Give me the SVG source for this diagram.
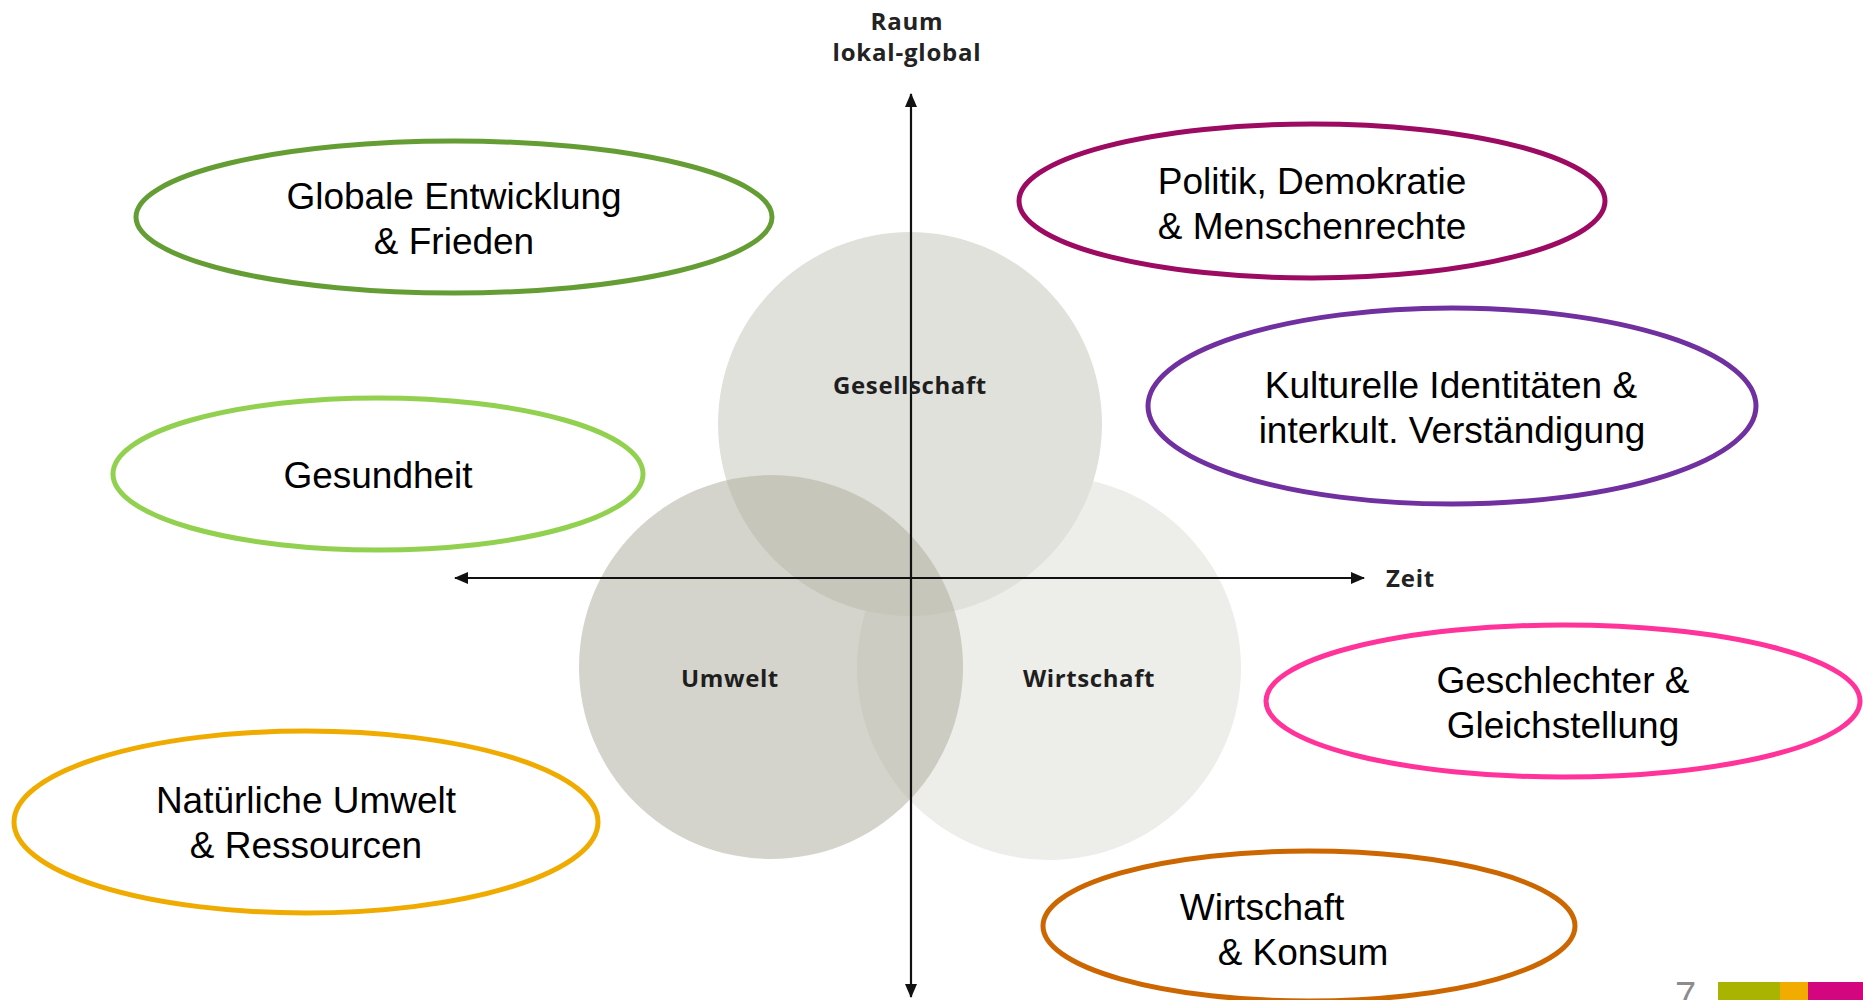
<svg xmlns="http://www.w3.org/2000/svg" width="1863" height="1000" viewBox="0 0 1863 1000">
<style>
.axis{stroke:#111;stroke-width:2.2;fill:none}
.axl{font-family:"Open Sans","Liberation Sans",sans-serif;font-weight:700;font-size:24px;letter-spacing:0.8px;fill:#222}
.cl{font-family:"Open Sans","Liberation Sans",sans-serif;font-weight:700;font-size:24px;letter-spacing:0.6px;fill:#1e1e1e;text-anchor:middle}
.el{fill:none;stroke-width:5}
.et{font-family:"Liberation Sans",Arial,sans-serif;font-size:37px;fill:#000;text-anchor:middle}
</style>
<defs>
<marker id="ah" viewBox="0 0 14 12" refX="13" refY="6" markerWidth="14" markerHeight="12" markerUnits="userSpaceOnUse" orient="auto-start-reverse">
<path d="M0,0 L14,6 L0,12 Z" fill="#111"/>
</marker>
</defs>
<rect width="1863" height="1000" fill="#fff"/>
<g id="circles">
<g id="c-wirtschaft"><circle cx="1049" cy="668" r="192" fill="#edede9"/></g>
<g id="c-gesellschaft"><circle cx="910" cy="424" r="192" fill="#e1e1dc"/></g>
<g id="c-umwelt"><circle cx="771" cy="667" r="192" fill="#adad9f" fill-opacity="0.53"/></g>
</g>
<g id="connectors">
<line class="axis" x1="911" y1="997" x2="911" y2="94" marker-start="url(#ah)" marker-end="url(#ah)"/>
<line class="axis" x1="455" y1="578" x2="1364" y2="578" marker-start="url(#ah)" marker-end="url(#ah)"/>
</g>
<g id="axis-labels">
<text class="axl" x="907" y="30" text-anchor="middle">Raum</text>
<text class="axl" x="907" y="61" text-anchor="middle">lokal-global</text>
<text class="axl" x="1386" y="587">Zeit</text>
</g>
<g id="circle-labels">
<text class="cl" x="910" y="394">Gesellschaft</text>
<text class="cl" x="730" y="687">Umwelt</text>
<text class="cl" x="1089" y="687">Wirtschaft</text>
</g>
<g id="n-globale">
<ellipse class="el" cx="454" cy="217" rx="318" ry="76" stroke="#659d35"/>
<text class="et" x="454" y="209">Globale Entwicklung</text>
<text class="et" x="454" y="254">&amp; Frieden</text>
</g>
<g id="n-gesundheit">
<ellipse class="el" cx="378" cy="474" rx="265" ry="76" stroke="#92d050"/>
<text class="et" x="378" y="488">Gesundheit</text>
</g>
<g id="n-natur">
<ellipse class="el" cx="306" cy="822" rx="292" ry="91" stroke="#f0ab00"/>
<text class="et" x="306" y="813">Natürliche Umwelt</text>
<text class="et" x="306" y="858">&amp; Ressourcen</text>
</g>
<g id="n-politik">
<ellipse class="el" cx="1312" cy="201" rx="293" ry="77" stroke="#9c0a62"/>
<text class="et" x="1312" y="194">Politik, Demokratie</text>
<text class="et" x="1312" y="239">&amp; Menschenrechte</text>
</g>
<g id="n-kultur">
<ellipse class="el" cx="1452" cy="406" rx="304" ry="98" stroke="#7030a0"/>
<text class="et" x="1451" y="398">Kulturelle Identitäten &amp;</text>
<text class="et" x="1452" y="443">interkult. Verständigung</text>
</g>
<g id="n-geschlechter">
<ellipse class="el" cx="1563" cy="701" rx="297" ry="76" stroke="#ff3399"/>
<text class="et" x="1563" y="693">Geschlechter &amp;</text>
<text class="et" x="1563" y="738">Gleichstellung</text>
</g>
<g id="n-wirtschaft">
<ellipse class="el" cx="1309" cy="926" rx="266" ry="75" stroke="#cc6600"/>
<text class="et" x="1262" y="920">Wirtschaft</text>
<text class="et" x="1303" y="965">&amp; Konsum</text>
</g>
<g id="footer">
<text x="1675" y="1009" font-family="Liberation Sans,Arial,sans-serif" font-size="38" fill="#8c8c8c">7</text>
<rect x="1718" y="982" width="62" height="18" fill="#a8b400"/>
<rect x="1780" y="982" width="28" height="18" fill="#f2ac00"/>
<rect x="1808" y="982" width="55" height="18" fill="#d4067f"/>
</g>
</svg>
